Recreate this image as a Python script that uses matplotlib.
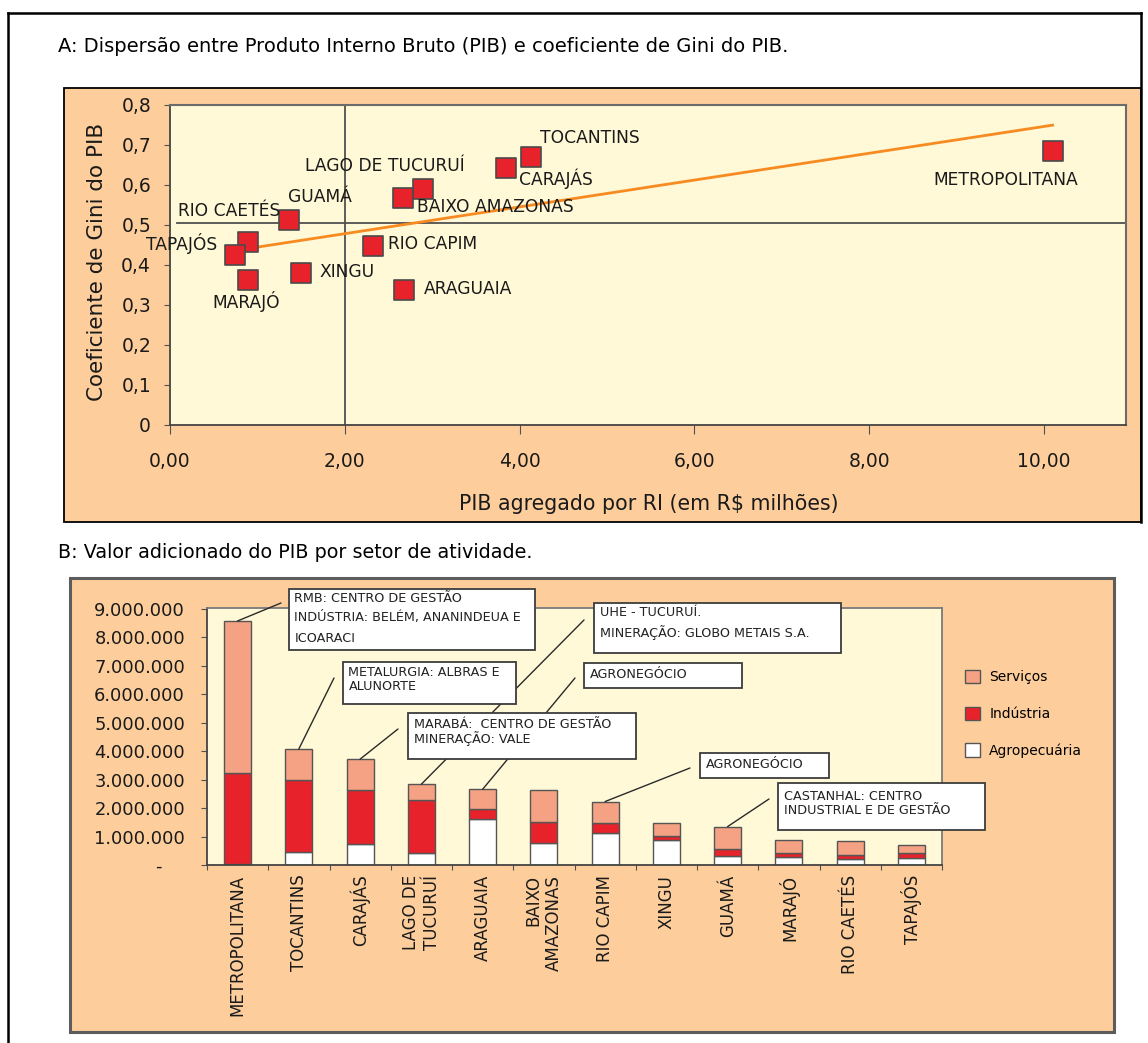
import numpy as np
import matplotlib.pyplot as plt
from matplotlib.patches import Rectangle, Patch
from matplotlib.lines import Line2D

W, H = 1148, 1043

# ---- A: PIB x Gini por RI
regioes = ["METROPOLITANA", "TOCANTINS", "CARAJÁS", "LAGO DE TUCURUÍ", "ARAGUAIA",
           "BAIXO AMAZONAS", "RIO CAPIM", "XINGU", "GUAMÁ", "MARAJÓ", "RIO CAETÉS", "TAPAJÓS"]
pib = [10.10, 4.13, 3.85, 2.89, 2.68, 2.67, 2.32, 1.50, 1.36, 0.89, 0.895, 0.74]
gini = [0.685, 0.669, 0.642, 0.590, 0.3375, 0.567, 0.4475, 0.379, 0.5125, 0.3625, 0.458, 0.425]
pib_ref = 2.0
gini_ref = 0.505

# ---- B: valor adicionado por setor
rotulos_b = ["METROPOLITANA", "TOCANTINS", "CARAJÁS", "LAGO DE\nTUCURUÍ", "ARAGUAIA",
             "BAIXO\nAMAZONAS", "RIO CAPIM", "XINGU", "GUAMÁ", "MARAJÓ", "RIO CAETÉS", "TAPAJÓS"]
setores = ["Serviços", "Indústria", "Agropecuária"]
agropecuaria = [25e3, 470e3, 730e3, 410e3, 1610e3, 790e3, 1120e3, 880e3, 320e3, 290e3, 200e3, 230e3]
industria = [3210e3, 2520e3, 1910e3, 1880e3, 360e3, 710e3, 350e3, 140e3, 230e3, 140e3, 150e3, 180e3]
servicos = [5340e3, 1090e3, 1080e3, 550e3, 690e3, 1120e3, 760e3, 450e3, 800e3, 450e3, 510e3, 290e3]

notas = [
    ["RMB: CENTRO DE GESTÃO", "INDÚSTRIA: BELÉM, ANANINDEUA E", "ICOARACI"],
    ["METALURGIA: ALBRAS E", "ALUNORTE"],
    ["MARABÁ:  CENTRO DE GESTÃO", "MINERAÇÃO: VALE"],
    ["UHE - TUCURUÍ.", "MINERAÇÃO: GLOBO METAIS S.A."],
    ["AGRONEGÓCIO"],
    ["AGRONEGÓCIO"],
    ["CASTANHAL: CENTRO", "INDUSTRIAL E DE GESTÃO"],
]
nota_ri = [0, 1, 2, 3, 4, 6, 8]  # RI apontada por cada nota

PEACH = "#fdce9c"
CREAM = "#fff9d7"
RED = "#e8222a"
SALMON = "#f4a283"
ORANGE = "#f78b22"
GRAY = "#505050"


def fx(px):
    return px / W


def fy(py):
    return 1 - py / H


fig = plt.figure(figsize=(W / 100, H / 100), dpi=100)
fig.patch.set_facecolor("white")

# outer frame
for xs, ys in [([8, 8], [13, 1043]), ([8, 1141], [13, 13]), ([1141, 1141], [13, 522])]:
    fig.add_artist(Line2D([fx(v) for v in xs], [fy(v) for v in ys], transform=fig.transFigure,
                          color="black", lw=1.8, zorder=-1))

fig.add_artist(Rectangle((fx(64), fy(522)), (1141 - 64) / W, (522 - 88) / H, transform=fig.transFigure,
                         fc=PEACH, ec="black", lw=1.3, zorder=-2))
fig.add_artist(Rectangle((fx(70), fy(1032)), (1114 - 70) / W, (1032 - 578) / H, transform=fig.transFigure,
                         fc=PEACH, ec="#5c5c5c", lw=2.2, zorder=-2))

fig.text(fx(58), fy(47), "A: Dispersão entre Produto Interno Bruto (PIB) e coeficiente de Gini do PIB.",
         fontsize=14.0, va="center")
fig.text(fx(58), fy(552), "B: Valor adicionado do PIB por setor de atividade.", fontsize=13.8, va="center")

# ---------------- A
axA = fig.add_axes([fx(170), fy(425), (1126 - 170) / W, (425 - 105) / H])
axA.set_facecolor(CREAM)
axA.set_xlim(0, 10.94)
axA.set_ylim(0, 0.8)
axA.axvline(pib_ref, color=GRAY, lw=1.3, zorder=1)
axA.axhline(gini_ref, xmin=0.007, color=GRAY, lw=1.3, zorder=1)
coef = np.polyfit(pib, gini, 1)
xt = np.array([min(pib), max(pib)])
axA.plot(xt, np.polyval(coef, xt), color=ORANGE, lw=2, zorder=2)
axA.scatter(pib, gini, marker="s", s=215, color=RED, edgecolor="#4a4a4a", linewidth=1.2, zorder=3)

rot_a = {
    "TOCANTINS": (9, 19, "left"),
    "CARAJÁS": (13, -11, "left"),
    "LAGO DE TUCURUÍ": (-38, 23, "center"),
    "BAIXO AMAZONAS": (14, -9, "left"),
    "GUAMÁ": (31, 23, "center"),
    "RIO CAETÉS": (-19, 31, "center"),
    "TAPAJÓS": (-17, 11, "right"),
    "MARAJÓ": (-2, -22, "center"),
    "XINGU": (18, 1, "left"),
    "RIO CAPIM": (15, 2, "left"),
    "ARAGUAIA": (20, 1, "left"),
    "METROPOLITANA": (-47, -29, "center"),
}
for nome, x, y in zip(regioes, pib, gini):
    dx, dy, ha = rot_a[nome]
    axA.annotate(nome, (x, y), xytext=(dx, dy), textcoords="offset pixels", ha=ha, va="center",
                 fontsize=12.3, color="#1a1a1a", annotation_clip=False, zorder=4)

axA.set_xticks(np.arange(0, 11, 2))
axA.set_xticklabels([f"{v:.2f}".replace(".", ",") for v in np.arange(0, 11, 2)])
axA.set_yticks(np.arange(0, 0.81, 0.1))
axA.set_yticklabels(["0"] + [f"{v:.1f}".replace(".", ",") for v in np.arange(0.1, 0.81, 0.1)])
axA.tick_params(axis="x", length=6.5, pad=13, labelsize=13.5, color=GRAY, labelcolor="#1a1a1a")
axA.tick_params(axis="y", length=4.6, pad=9, labelsize=13.5, color=GRAY, labelcolor="#1a1a1a")
for s in ["left", "bottom"]:
    axA.spines[s].set_color("#444444")
    axA.spines[s].set_linewidth(1.3)
for s in ["top", "right"]:
    axA.spines[s].set_color("#6b6b6b")
    axA.spines[s].set_linewidth(1.5)

fig.text(fx(97), fy(262), "Coeficiente de Gini do PIB", rotation=90, fontsize=15.5, ha="center", va="center",
         color="#1a1a1a")
fig.text(fx(649), fy(504), "PIB agregado por RI (em R$ milhões)", fontsize=14.8, ha="center", va="center",
         color="#1a1a1a")

# ---------------- B
axB = fig.add_axes([fx(207), fy(865), (942 - 207) / W, (865 - 608) / H])
axB.set_facecolor(CREAM)
idx = np.arange(len(rotulos_b))
agro = np.array(agropecuaria)
ind = np.array(industria)
serv = np.array(servicos)
bw = 0.44
axB.bar(idx, agro, bw, color="white", edgecolor="#555555", lw=1, zorder=2)
axB.bar(idx, ind, bw, bottom=agro, color=RED, edgecolor="#555555", lw=1, zorder=2)
axB.bar(idx, serv, bw, bottom=agro + ind, color=SALMON, edgecolor="#555555", lw=1, zorder=2)
total = agro + ind + serv
axB.set_xlim(-0.5, len(rotulos_b) - 0.5)
axB.set_ylim(0, 9.03e6)

yt = np.arange(0, 9.1e6, 1e6)
axB.set_yticks(yt)
axB.set_yticklabels(["-    "] + [f"{int(v):,}".replace(",", ".") for v in yt[1:]])
axB.tick_params(axis="y", length=4.3, pad=11.5, labelsize=12.9, color=GRAY, labelcolor="#1a1a1a")
axB.set_xticks(np.arange(-0.5, len(rotulos_b)))
axB.set_xticklabels([])
axB.tick_params(axis="x", which="major", length=3.8, color=GRAY)
axB.set_xticks(idx, minor=True)
axB.set_xticklabels(rotulos_b, minor=True, rotation=90, ha="center", va="top", multialignment="right")
axB.tick_params(axis="x", which="minor", length=0, pad=7, labelsize=12, labelcolor="#1a1a1a")
for s in ["left", "bottom"]:
    axB.spines[s].set_color("#444444")
    axB.spines[s].set_linewidth(1.3)
for s in ["top", "right"]:
    axB.spines[s].set_color("#7a7a7a")
    axB.spines[s].set_linewidth(1.3)

# notas (caixas em pixels da figura)
caixas = [(289, 589, 535, 650), (343, 662, 516, 704), (408, 713, 636, 759), (594, 603, 841, 653),
          (584, 663, 742, 688), (700, 753, 829, 778), (778, 783, 985, 830)]
linhas_y = [[599, 618, 638], [673, 687], [724, 739], [613, 633], [674], [765], [796, 811]]
pontas = [(281, 603), (334, 678), (398, 729), (584, 620), (575, 678), (690, 768), (769, 799)]

for i, (px, py) in zip(nota_ri, pontas):
    axB.annotate("", xy=(i, total[i]), xycoords="data", xytext=(fx(px), fy(py)),
                 textcoords="figure fraction", annotation_clip=False,
                 arrowprops=dict(arrowstyle="-", color="#2a2a2a", lw=1.0, shrinkA=0, shrinkB=0), zorder=3)

for (l, t, r, b), linhas, ys in zip(caixas, notas, linhas_y):
    axB.add_artist(Rectangle((fx(l), fy(b)), (r - l) / W, (b - t) / H, transform=fig.transFigure,
                             fc="white", ec="#3c3c3c", lw=1.3, zorder=4, clip_on=False))
    for txt, yy in zip(linhas, ys):
        axB.text(fx(l + 5.5), fy(yy), txt, transform=fig.transFigure, fontsize=9.2, va="center",
                 ha="left", color="#222222", zorder=5, clip_on=False)

cores = {"Serviços": SALMON, "Indústria": RED, "Agropecuária": "white"}
fig.legend(handles=[Patch(fc=cores[s], ec="#555555", lw=1) for s in setores], labels=setores,
           loc="upper left", bbox_to_anchor=(fx(965), fy(670)), frameon=False, fontsize=10,
           handlelength=1.1, handleheight=1.1, handletextpad=0.65, labelspacing=1.6,
           borderpad=0, borderaxespad=0)

fig.savefig("out.png", dpi=100)
